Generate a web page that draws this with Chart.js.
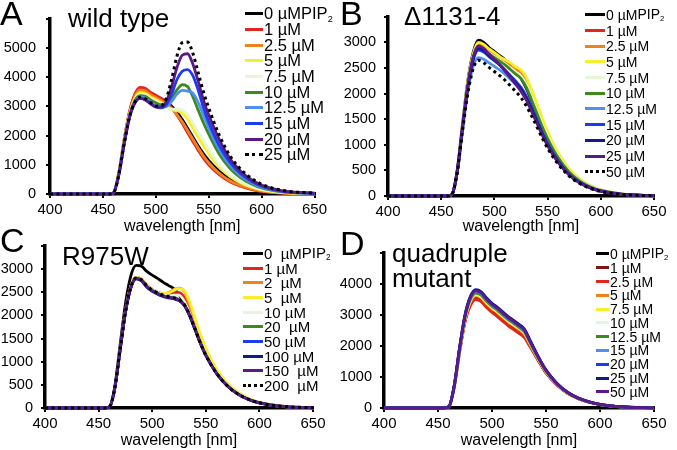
<!DOCTYPE html>
<html>
<head>
<meta charset="utf-8">
<script src="https://cdn.jsdelivr.net/npm/chart.js@4.4.1/dist/chart.umd.min.js"></script>
<style>
body { margin:0; background:#fff; font-family:"Liberation Sans", Arial, sans-serif; }
#fig { position:relative; width:677px; height:450px; overflow:hidden; }
canvas { position:absolute; }
.txt { position:absolute; line-height:1; white-space:nowrap; color:#000; }
.leyenda { position:absolute; color:#000; }
.fila { display:flex; align-items:center; white-space:pre; }
.raya { display:inline-block; height:0; margin-right:1px; }
sub { font-size:55%; vertical-align:-0.3em; }
</style>
</head>
<body>
<div id="fig">
  <canvas id="gA" width="340" height="236" style="left:0;top:0"></canvas>
  <canvas id="gB" width="340" height="236" style="left:337px;top:0"></canvas>
  <canvas id="gC" width="340" height="225" style="left:0;top:225px"></canvas>
  <canvas id="gD" width="340" height="225" style="left:337px;top:225px"></canvas>

  <div class="txt" style="left:0;top:-4px;font-size:34px">A</div>
  <div class="txt" style="left:68px;top:5px;font-size:26px">wild type</div>
  <div class="txt" style="left:340px;top:-4px;font-size:34px">B</div>
  <div class="txt" style="left:404px;top:3px;font-size:26px">Δ1131-4</div>
  <div class="txt" style="left:0;top:223px;font-size:34px">C</div>
  <div class="txt" style="left:62px;top:243px;font-size:26px">R975W</div>
  <div class="txt" style="left:340px;top:226px;font-size:34px">D</div>
  <div class="txt" style="left:392px;top:241px;font-size:26px;line-height:25px">quadruple<br>mutant</div>

  <div class="leyenda" id="legA"></div>
  <div class="leyenda" id="legB"></div>
  <div class="leyenda" id="legC"></div>
  <div class="leyenda" id="legD"></div>
</div>
<script>
// longitudes de onda (nm)
const wavelength = [400,455,460,465,470,475,480,485,490,495,500,505,510,515,520,525,530,535,540,545,550,560,570,580,590,600,620,650];
const xTicks = [400,450,500,550,600,650];
const yTicksA = [0,1000,2000,3000,4000,5000,6000];
const yTicksB = [0,500,1000,1500,2000,2500,3000,3500];
const yTicksC = [0,500,1000,1500,2000,2500,3000,3500];
const yTicksD = [0,1000,2000,3000,4000,5000];

// A - wild type
const concA = ['0 µM','1 µM','2.5 µM','5 µM','7.5 µM','10 µM','12.5 µM','15 µM','20 µM','25 µM'];
const wt_0   = [0,0,40,700,1800,2750,3350,3600,3580,3450,3350,3250,3150,3000,2800,2550,2250,1950,1650,1380,1150,780,510,330,210,130,50,10];
const wt_1   = [0,0,40,720,1850,2800,3400,3650,3620,3480,3380,3280,3150,2950,2700,2420,2100,1800,1500,1230,1000,660,420,270,160,90,30,5];
const wt_2_5 = [0,0,40,700,1800,2750,3330,3560,3530,3400,3300,3200,3080,2920,2720,2470,2180,1880,1580,1300,1070,710,455,290,180,100,35,5];
const wt_5   = [0,0,40,690,1780,2700,3260,3470,3440,3320,3230,3130,3000,2880,2850,2760,2560,2260,1960,1660,1390,930,600,385,240,140,50,10];
const wt_7_5 = [0,0,40,680,1760,2680,3220,3420,3390,3270,3180,3080,2980,2900,2910,2870,2720,2430,2120,1820,1520,1010,660,425,265,155,55,10];
const wt_10  = [0,0,40,670,1740,2650,3180,3370,3340,3220,3120,3060,3080,3280,3560,3740,3680,3330,2880,2440,2050,1360,880,560,350,205,70,15];
const wt_12_5= [0,0,40,660,1720,2620,3130,3320,3280,3150,3030,2980,3000,3170,3420,3550,3520,3450,3140,2700,2260,1510,980,625,390,230,80,15];
const wt_15  = [0,0,40,650,1700,2600,3100,3280,3230,3100,2980,2950,3060,3420,3920,4200,4260,4050,3560,2960,2460,1660,1090,705,445,265,90,20];
const wt_20  = [0,0,40,650,1700,2600,3100,3270,3220,3090,2980,2980,3170,3680,4330,4750,4800,4450,3860,3220,2700,1860,1210,790,495,305,110,25];
const wt_25  = [0,0,40,650,1700,2620,3130,3310,3260,3130,3010,3020,3280,3930,4720,5180,5200,4820,4160,3500,2950,2010,1310,860,545,335,120,25];

// B - Δ1131-4
const concB = ['0 µM','1 µM','2.5 µM','5 µM','7.5 µM','10 µM','12.5 µM','15 µM','20 µM','25 µM','50 µM'];
const d_0   = [0,0,30,500,1400,2250,2800,3040,3000,2900,2820,2740,2660,2560,2450,2300,2100,1850,1600,1350,1120,740,470,290,180,110,35,5];
const d_1   = [0,0,30,480,1360,2180,2720,2950,2910,2820,2750,2680,2610,2540,2470,2400,2240,1980,1710,1440,1190,790,505,315,195,115,38,5];
const d_2_5 = [0,0,30,480,1360,2180,2720,2940,2900,2810,2740,2670,2600,2530,2460,2400,2250,2000,1720,1450,1200,790,505,315,195,115,38,5];
const d_5   = [0,0,30,490,1380,2220,2770,3000,2960,2870,2800,2720,2660,2600,2520,2460,2320,2070,1800,1520,1260,840,540,335,205,122,40,5];
const d_7_5 = [0,0,30,480,1350,2160,2700,2920,2880,2790,2720,2650,2580,2500,2420,2340,2180,1930,1660,1400,1160,770,490,305,188,112,36,5];
const d_10  = [0,0,30,475,1340,2150,2690,2900,2860,2770,2700,2630,2560,2470,2380,2290,2120,1870,1610,1350,1120,745,475,295,182,108,35,5];
const d_12_5= [0,0,30,460,1280,2050,2530,2700,2670,2600,2530,2460,2380,2280,2180,2070,1900,1680,1450,1210,1000,665,425,262,162,96,31,5];
const d_15  = [0,0,30,470,1320,2120,2650,2850,2810,2720,2640,2560,2460,2350,2240,2120,1950,1720,1480,1240,1020,680,432,268,165,98,32,5];
const d_20  = [0,0,30,470,1330,2130,2670,2880,2840,2740,2650,2560,2450,2330,2210,2080,1910,1690,1450,1210,1000,665,422,262,161,96,31,5];
const d_25  = [0,0,30,475,1340,2160,2710,2930,2880,2770,2670,2560,2440,2310,2180,2040,1870,1650,1420,1190,980,652,414,257,158,94,30,5];
const d_50  = [0,0,30,450,1260,2000,2480,2650,2600,2510,2430,2350,2260,2150,2040,1920,1760,1560,1350,1130,930,620,394,244,150,89,28,5];

// C - R975W
const concC = ['0  µM','1 µM','2  µM','5  µM','10 µM','20  µM','50 µM','100 µM','150  µM','200  µM'];
const r_0   = [0,0,20,450,1350,2250,2850,3080,3060,2950,2870,2800,2720,2650,2580,2450,2270,2000,1700,1400,1150,760,490,310,190,115,38,5];
const r_1   = [0,0,20,420,1250,2080,2620,2820,2780,2650,2560,2500,2460,2450,2490,2490,2380,2080,1750,1430,1165,762,490,310,190,115,38,5];
const r_2   = [0,0,20,420,1250,2080,2620,2820,2780,2650,2560,2500,2470,2490,2560,2590,2520,2200,1830,1490,1205,788,505,318,195,118,38,5];
const r_5   = [0,0,20,420,1250,2080,2620,2820,2780,2650,2560,2500,2470,2480,2540,2580,2540,2290,1940,1590,1295,842,540,340,210,125,40,5];
const r_10  = [0,0,20,420,1250,2075,2610,2810,2770,2640,2550,2490,2440,2420,2440,2440,2300,2030,1720,1410,1150,755,485,305,188,113,37,5];
const r_20  = [0,0,20,420,1250,2070,2600,2800,2760,2630,2540,2480,2430,2400,2380,2340,2230,2000,1700,1400,1140,750,480,300,185,112,37,5];
const r_50  = [0,0,20,418,1245,2065,2595,2795,2755,2620,2530,2470,2420,2390,2370,2330,2220,1995,1700,1400,1140,750,480,300,185,112,37,5];
const r_100 = [0,0,20,418,1240,2060,2590,2790,2745,2610,2520,2460,2410,2380,2360,2320,2210,1990,1695,1398,1138,748,479,300,185,112,37,5];
const r_150 = [0,0,20,420,1250,2070,2600,2800,2760,2625,2535,2475,2425,2395,2375,2335,2225,1998,1700,1400,1140,750,480,300,185,112,37,5];
const r_200 = [0,0,20,420,1250,2075,2610,2810,2770,2640,2550,2490,2440,2410,2385,2345,2235,2005,1705,1402,1142,752,481,301,186,112,37,5];

// D - quadruple mutant
const concD = ['0 µM','1 µM','2.5 µM','5 µM','7.5 µM','10 µM','12.5 µM','15 µM','20 µM','25 µM','50 µM'];
const q_0   = [0,0,40,680,1850,2840,3400,3600,3530,3340,3180,3050,2900,2750,2630,2510,2360,2050,1740,1430,1150,755,478,300,187,111,37,5];
const q_1   = [0,0,40,675,1830,2810,3360,3560,3490,3300,3140,3010,2860,2710,2590,2470,2320,2020,1720,1420,1140,750,475,298,186,110,36,5];
const q_2_5 = [0,0,40,665,1800,2770,3300,3500,3430,3240,3080,2950,2800,2650,2530,2410,2270,1990,1700,1400,1130,745,472,296,185,110,36,5];
const q_5   = [0,0,40,685,1860,2860,3420,3620,3550,3360,3200,3070,2920,2770,2650,2530,2380,2070,1750,1440,1160,760,480,302,188,112,37,5];
const q_7_5 = [0,0,40,690,1870,2880,3450,3650,3580,3390,3230,3100,2950,2800,2680,2560,2410,2090,1770,1450,1170,765,484,304,189,113,37,5];
const q_10  = [0,0,40,695,1890,2900,3480,3690,3620,3420,3260,3130,2980,2830,2710,2580,2430,2100,1780,1460,1180,770,487,306,190,114,38,5];
const q_12_5= [0,0,40,700,1900,2920,3500,3710,3640,3440,3280,3150,3000,2850,2730,2600,2450,2120,1790,1470,1190,775,490,308,192,115,38,5];
const q_15  = [0,0,40,705,1920,2950,3540,3760,3690,3490,3320,3190,3040,2890,2770,2640,2490,2150,1810,1490,1200,785,497,312,194,116,39,5];
const q_20  = [0,0,40,715,1940,2990,3580,3800,3730,3530,3360,3230,3080,2930,2810,2680,2530,2190,1840,1510,1220,795,505,318,198,118,40,5];
const q_25  = [0,0,40,720,1950,3000,3600,3820,3750,3550,3380,3250,3100,2950,2830,2700,2550,2200,1850,1520,1230,800,510,320,200,120,40,5];
const q_50  = [0,0,40,710,1930,2970,3560,3780,3710,3510,3340,3210,3060,2910,2790,2660,2510,2170,1830,1500,1210,790,500,315,196,117,39,5];

// colores
const NEGRO='#000000', ROJO='#e3261c', NARANJA='#f0821e', AMARILLO='#f7ef2a', VERDECLARO='#e6f6d6',
      VERDE='#3c8a1e', AZULCLARO='#4d8ff2', AZUL='#1c3cf0', MARINO='#0c1c8c', MORADO='#5a1a8a', ROJOOSCURO='#7a1616';
const PUNTOS = 'puntos';
const coloresA = [NEGRO,ROJO,NARANJA,AMARILLO,VERDECLARO,VERDE,AZULCLARO,AZUL,MORADO,PUNTOS];
const coloresB = [NEGRO,ROJO,NARANJA,AMARILLO,VERDECLARO,VERDE,AZULCLARO,AZUL,MARINO,MORADO,PUNTOS];
const coloresC = [NEGRO,ROJO,NARANJA,AMARILLO,VERDECLARO,VERDE,AZUL,MARINO,MORADO,PUNTOS];
const coloresD = [NEGRO,ROJOOSCURO,ROJO,NARANJA,AMARILLO,VERDECLARO,VERDE,AZULCLARO,AZUL,MARINO,MORADO];

const fuente = '"Liberation Sans", Arial, sans-serif';

function crearGrafica(idCanvas, series, etiquetas, colores, yTicks, caja) {
    const yMax = yTicks[yTicks.length - 1];
    const datasets = series.map((serie, i) => {
        const punteada = colores[i] === PUNTOS;
        return {
            label: etiquetas[i],
            data: serie.map((v, j) => ({x: wavelength[j], y: v})),
            borderColor: punteada ? '#000' : colores[i],
            borderWidth: punteada ? 3 : 2.8,
            borderDash: punteada ? [3, 3.5] : [],
            pointRadius: 0,
            cubicInterpolationMode: 'monotone',
            fill: false,
            clip: false,
            order: -i
        };
    });

    const config = {
        type: 'line',
        data: { datasets: datasets },
        options: {
            responsive: false,
            animation: false,
            devicePixelRatio: 1,
            layout: {
                autoPadding: false,
                padding: { left: 0, top: caja.arriba, right: caja.der, bottom: 0 }
            },
            plugins: { legend: { display: false }, tooltip: { enabled: false } },
            scales: {
                x: {
                    type: 'linear', min: 400, max: 650,
                    afterBuildTicks: s => { s.ticks = xTicks.map(v => ({ value: v })); },
                    afterFit: s => { s.height = caja.abajo; },
                    ticks: { color: '#000', font: { family: fuente, size: 15 }, padding: 3, maxRotation: 0 },
                    grid: { drawOnChartArea: false, tickLength: 4, color: '#000', lineWidth: 2 },
                    border: { color: '#000', width: 3.5 },
                    title: { display: true, text: 'wavelength [nm]', color: '#000',
                             font: { family: fuente, size: 16 }, padding: { top: 0, bottom: 0 } }
                },
                y: {
                    min: 0, max: yMax,
                    afterBuildTicks: s => { s.ticks = yTicks.map(v => ({ value: v })); },
                    afterFit: s => { s.width = caja.izq; },
                    ticks: {
                        color: '#000', font: { family: fuente, size: 14.5 }, padding: caja.pad,
                        callback: v => (v === yMax ? '' : v)
                    },
                    grid: { drawOnChartArea: false, tickLength: 4, color: '#000', lineWidth: 2 },
                    border: { color: '#000', width: 3.5 }
                }
            }
        }
    };
    const ctx = document.getElementById(idCanvas).getContext('2d');
    return new Chart(ctx, config);
}

// leyenda en html a partir de los datasets
function crearLeyenda(idDiv, grafica, pos) {
    const div = document.getElementById(idDiv);
    div.style.left = pos.x + 'px';
    div.style.top = pos.y + 'px';
    div.style.fontSize = pos.fuente + 'px';
    grafica.data.datasets.forEach((ds, i) => {
        const fila = document.createElement('div');
        fila.className = 'fila';
        fila.style.height = pos.alto + 'px';
        const raya = document.createElement('span');
        raya.className = 'raya';
        raya.style.width = pos.raya + 'px';
        raya.style.borderTop = ds.borderDash.length ? '3px dotted #000' : '3px solid ' + ds.borderColor;
        const texto = document.createElement('span');
        texto.textContent = ds.label;
        fila.appendChild(raya);
        fila.appendChild(texto);
        if (i === 0) {
            const pip = document.createElement('span');
            pip.innerHTML = 'PIP<sub>2</sub>';
            fila.appendChild(pip);
        }
        div.appendChild(fila);
    });
}

const gA = crearGrafica('gA', [wt_0,wt_1,wt_2_5,wt_5,wt_7_5,wt_10,wt_12_5,wt_15,wt_20,wt_25], concA, coloresA, yTicksA,
    { izq: 50, arriba: 6, der: 25.5, abajo: 42, pad: 10 });
const gB = crearGrafica('gB', [d_0,d_1,d_2_5,d_5,d_7_5,d_10,d_12_5,d_15,d_20,d_25,d_50], concB, coloresB, yTicksB,
    { izq: 51, arriba: 7, der: 23, abajo: 40, pad: 8 });
const gC = crearGrafica('gC', [r_0,r_1,r_2,r_5,r_10,r_20,r_50,r_100,r_150,r_200], concC, coloresC, yTicksC,
    { izq: 45, arriba: 21, der: 27, abajo: 42, pad: 8 });
const gD = crearGrafica('gD', [q_0,q_1,q_2_5,q_5,q_7_5,q_10,q_12_5,q_15,q_20,q_25,q_50], concD, coloresD, yTicksD,
    { izq: 47, arriba: 28, der: 23, abajo: 42, pad: 8 });

crearLeyenda('legA', gA, { x: 245, y: 6, alto: 15.67, fuente: 16.5, raya: 18 });
crearLeyenda('legB', gB, { x: 585, y: 7, alto: 15.7, fuente: 14, raya: 20 });
crearLeyenda('legC', gC, { x: 243, y: 246, alto: 14.7, fuente: 15, raya: 20 });
crearLeyenda('legD', gD, { x: 596, y: 247, alto: 13.8, fuente: 14, raya: 13 });
</script>
</body>
</html>
